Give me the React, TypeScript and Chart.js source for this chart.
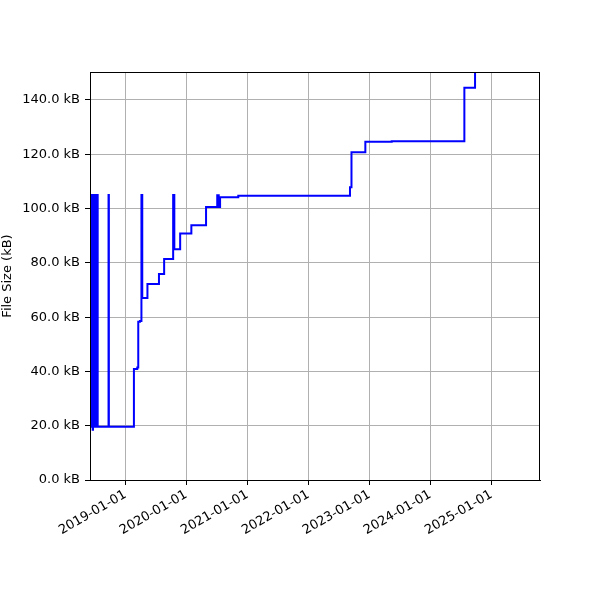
import React, { useEffect, useRef } from 'react';
import { Chart, registerables } from 'chart.js';

Chart.register(...registerables);

// change points: from this date on, the file has this size (kB)
const sizeDates: string[] = [
  '2018-06-09', '2018-06-11', '2018-06-13', '2018-06-15', '2018-06-17', '2018-06-19',
  '2018-06-21', '2018-06-23', '2018-06-25', '2018-06-27', '2018-06-29', '2018-07-01',
  '2018-07-03', '2018-07-06', '2018-07-09', '2018-07-12', '2018-07-15', '2018-07-19',
  '2018-09-22', '2018-09-24',
  '2019-02-21', '2019-03-13', '2019-03-19', '2019-03-29', '2019-04-07', '2019-04-12',
  '2019-05-13', '2019-07-21', '2019-08-21', '2019-10-14', '2019-10-21', '2019-11-25',
  '2020-01-31', '2020-04-28', '2020-07-04', '2020-07-13', '2020-07-21', '2020-11-07',
  '2022-09-07', '2022-09-16', '2022-12-08', '2023-05-15', '2024-07-23', '2024-09-25',
  '2025-03-01',
];
const sizeValues: number[] = [
  105.0, 19.6, 105.0, 19.6, 105.0, 18.5,
  105.0, 19.6, 105.0, 19.6, 105.0, 19.6,
  105.0, 19.6, 105.0, 19.6, 105.0, 19.6,
  105.0, 19.6,
  40.9, 41.4, 58.3, 58.6, 105.0, 67.0,
  72.2, 75.9, 81.4, 105.0, 85.0, 90.8,
  93.8, 100.6, 104.9, 100.6, 104.2, 104.7,
  107.8, 120.7, 124.6, 124.8, 144.5, 160.0,
  160.0,
];

const yearTicks: number[] = [2019, 2020, 2021, 2022, 2023, 2024, 2025];
const sizeTicks: number[] = [0, 20, 40, 60, 80, 100, 120, 140];

const xMin = Date.UTC(2018, 5, 3);
const xMax = Date.UTC(2025, 9, 19);

const pad = (n: number) => (n < 10 ? '0' + n : '' + n);
const fmtDate = (ms: number) => {
  const d = new Date(ms);
  return d.getUTCFullYear() + '-' + pad(d.getUTCMonth() + 1) + '-' + pad(d.getUTCDate());
};

const frame = {
  id: 'frame',
  afterDraw(chart: any) {
    const { ctx, chartArea } = chart;
    ctx.save();
    ctx.strokeStyle = '#000';
    ctx.lineWidth = 1;
    ctx.strokeRect(chartArea.left + 0.5, chartArea.top + 0.5,
      chartArea.right - chartArea.left - 1, chartArea.bottom - chartArea.top);
    ctx.restore();
  },
};

const App: React.FC = () => {
  const canvasRef = useRef<HTMLCanvasElement | null>(null);
  const chartRef = useRef<Chart | null>(null);

  useEffect(() => {
    if (!canvasRef.current) return;
    const ctx = canvasRef.current.getContext('2d');
    if (!ctx) return;
    if (chartRef.current) chartRef.current.destroy();

    const font = { family: 'DejaVu Sans', size: 13 };
    const points = sizeDates.map((d, i) => ({ x: Date.parse(d + 'T00:00:00Z'), y: sizeValues[i] }));

    chartRef.current = new Chart(ctx, {
      type: 'line',
      data: {
        datasets: [{
          data: points,
          borderColor: '#0000ff',
          borderWidth: 2,
          pointRadius: 0,
          stepped: true,
          tension: 0,
        }],
      },
      options: {
        animation: false,
        responsive: false,
        devicePixelRatio: 1,
        layout: { padding: { top: 72, right: 60, left: 0, bottom: 0 } },
        plugins: { legend: { display: false }, tooltip: { enabled: false } },
        scales: {
          x: {
            type: 'linear',
            min: xMin,
            max: xMax,
            afterBuildTicks: (scale: any) => {
              scale.ticks = yearTicks.map(y => ({ value: Date.UTC(y, 0, 1) }));
            },
            afterFit: (scale: any) => { scale.height = 120; },
            ticks: {
              color: '#000',
              font,
              minRotation: 30,
              maxRotation: 30,
              autoSkip: false,
              padding: 2,
              callback: (v: any) => fmtDate(Number(v)),
            },
            grid: { color: '#b0b0b0', lineWidth: 1, tickColor: '#000', tickLength: 5 },
            border: { color: '#000' },
          },
          y: {
            type: 'linear',
            min: 0,
            max: 150.3,
            afterBuildTicks: (scale: any) => {
              scale.ticks = sizeTicks.map(v => ({ value: v }));
            },
            afterFit: (scale: any) => { scale.width = 90; },
            ticks: {
              color: '#000',
              font,
              padding: 5,
              callback: (v: any) => Number(v).toFixed(1) + ' kB',
            },
            title: { display: true, text: 'File Size (kB)', color: '#000', font, padding: { top: 0, bottom: 0 } },
            grid: { color: '#b0b0b0', lineWidth: 1, tickColor: '#000', tickLength: 5 },
            border: { color: '#000' },
          },
        },
      },
      plugins: [frame],
    });

    return () => {
      if (chartRef.current) {
        chartRef.current.destroy();
        chartRef.current = null;
      }
    };
  }, []);

  return (
    <div style={{ position: 'absolute', left: 0, top: 0, width: 600, height: 600, background: '#fff' }}>
      <canvas ref={canvasRef} width={600} height={600}></canvas>
    </div>
  );
};

export default App;
